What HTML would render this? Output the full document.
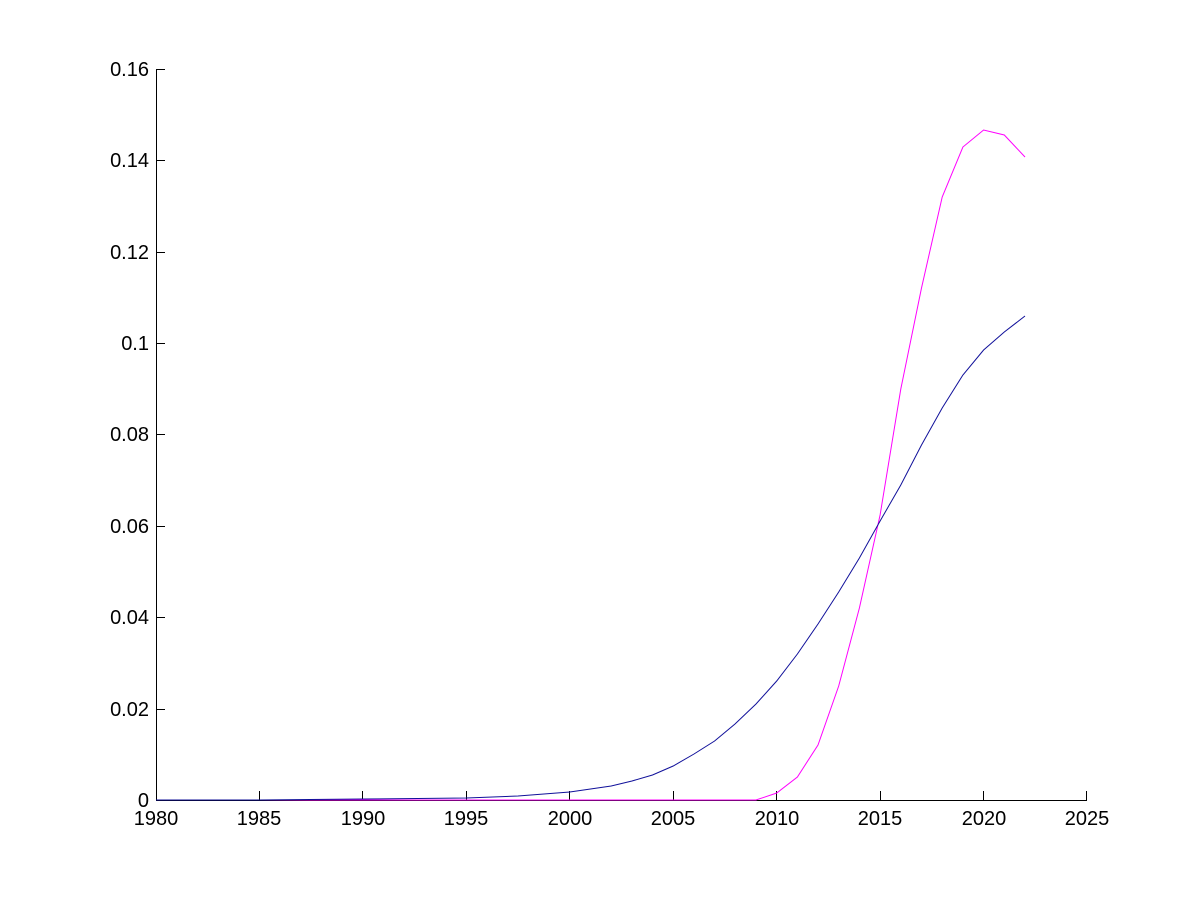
<!DOCTYPE html>
<html><head><meta charset="utf-8"><style>
html,body{margin:0;padding:0;background:#fff;}
svg{display:block;}
text{font-family:"Liberation Sans",Arial,sans-serif;font-size:20px;fill:#000;}
</style></head><body>
<svg width="1200" height="900" viewBox="0 0 1200 900">
<g stroke="#000" stroke-width="1" fill="none" shape-rendering="crispEdges">
<line x1="156.5" y1="69" x2="156.5" y2="800.5"/>
<line x1="156" y1="800.5" x2="1087" y2="800.5"/>
<line x1="259.5" y1="800" x2="259.5" y2="791"/>
<line x1="362.5" y1="800" x2="362.5" y2="791"/>
<line x1="466.5" y1="800" x2="466.5" y2="791"/>
<line x1="569.5" y1="800" x2="569.5" y2="791"/>
<line x1="673.5" y1="800" x2="673.5" y2="791"/>
<line x1="776.5" y1="800" x2="776.5" y2="791"/>
<line x1="880.5" y1="800" x2="880.5" y2="791"/>
<line x1="983.5" y1="800" x2="983.5" y2="791"/>
<line x1="1086.5" y1="800" x2="1086.5" y2="791"/>
<line x1="156" y1="709.5" x2="165" y2="709.5"/>
<line x1="156" y1="617.5" x2="165" y2="617.5"/>
<line x1="156" y1="526.5" x2="165" y2="526.5"/>
<line x1="156" y1="434.5" x2="165" y2="434.5"/>
<line x1="156" y1="343.5" x2="165" y2="343.5"/>
<line x1="156" y1="252.5" x2="165" y2="252.5"/>
<line x1="156" y1="160.5" x2="165" y2="160.5"/>
<line x1="156" y1="69.5" x2="165" y2="69.5"/>
</g>
<g text-anchor="end">
<text x="149" y="807">0</text>
<text x="149" y="716">0.02</text>
<text x="149" y="624">0.04</text>
<text x="149" y="533">0.06</text>
<text x="149" y="441">0.08</text>
<text x="149" y="350">0.1</text>
<text x="149" y="259">0.12</text>
<text x="149" y="167">0.14</text>
<text x="149" y="76">0.16</text>
</g>
<g text-anchor="middle">
<text x="156" y="825">1980</text>
<text x="259" y="825">1985</text>
<text x="363" y="825">1990</text>
<text x="466" y="825">1995</text>
<text x="570" y="825">2000</text>
<text x="673" y="825">2005</text>
<text x="777" y="825">2010</text>
<text x="880" y="825">2015</text>
<text x="984" y="825">2020</text>
<text x="1087" y="825">2025</text>
</g>
<polyline fill="none" stroke="#ff00ff" stroke-width="1" points="156,800 756,800 776.7,793 797.4,777 818,745 838.7,686 859.4,608 880.1,515 900.8,389 921.5,288 942.2,197 962.9,147 983.6,130 1004.3,135 1025,157"/>
<polyline fill="none" stroke="#10109a" stroke-width="1" points="156,800 259,800 310,799.5 362.9,799 466.3,798 518,796 569.8,792 611.2,786 632,781 652.5,775 673.2,766 694,754 714.6,741 735,724 756,704 776.7,681 797.4,654 818,624 838.7,592 859.4,558 880.1,521 900.8,485 921.5,445 942.2,408 962.9,375 983.6,350 1004.3,332 1025,316"/>
</svg>
</body></html>
